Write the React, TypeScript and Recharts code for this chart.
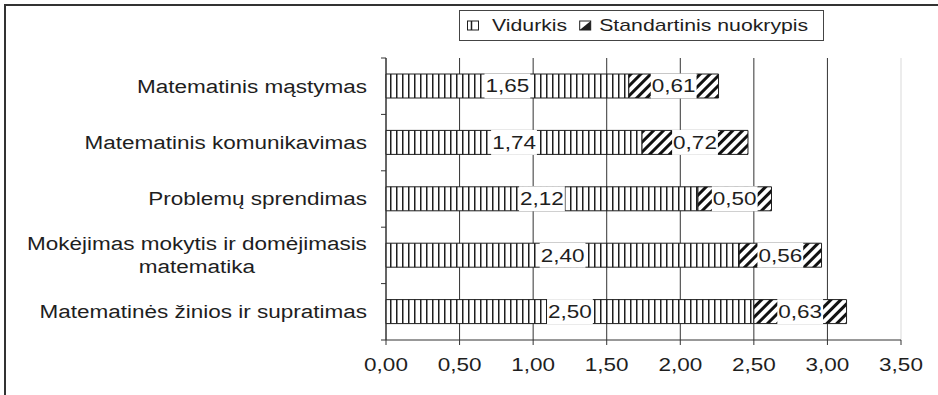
import {
  BarChart,
  Bar,
  XAxis,
  YAxis,
  CartesianGrid,
  Legend,
  LabelList,
} from "recharts";

const CATEGORIES = [
  "Matematinis mąstymas",
  "Matematinis komunikavimas",
  "Problemų sprendimas",
  "Mokėjimas mokytis ir domėjimasis matematika",
  "Matematinės žinios ir supratimas",
];
const MEAN = [1.65, 1.74, 2.12, 2.4, 2.5];
const SD = [0.61, 0.72, 0.5, 0.56, 0.63];
const SERIES_NAMES = ["Vidurkis", "Standartinis nuokrypis"];
const X_TICKS = [0, 0.5, 1, 1.5, 2, 2.5, 3, 3.5];

const data = CATEGORIES.map((name, i) => ({ name, mean: MEAN[i], sd: SD[i] }));

const WIDTH = 938;
const HEIGHT = 395;
const MARGIN = { top: 58, right: 37, bottom: 25, left: 0 };
const X_AXIS_HEIGHT = 30;
const Y_AXIS_WIDTH = 386;
const TICK_SIZE = 5;
const Y_TICK_MARGIN = 14;
const BAND =
  (HEIGHT - MARGIN.top - MARGIN.bottom - X_AXIS_HEIGHT) / CATEGORIES.length;

// the lettering in this chart is wide, so glyphs are stretched horizontally
const STRETCH = 1.25;
const FONT = '"Liberation Sans", Arial, sans-serif';
const INK = "#1e1e1e";

const fmt = (v: number) => v.toFixed(2).replace(".", ",");

let measureCtx: CanvasRenderingContext2D | null = null;
function textWidth(s: string, size: number) {
  if (!measureCtx) measureCtx = document.createElement("canvas").getContext("2d");
  if (!measureCtx) return s.length * size * 0.55 * STRETCH;
  measureCtx.font = `${size}px ${FONT}`;
  return measureCtx.measureText(s).width * STRETCH;
}

function wrapLabel(label: string, size: number, maxWidth: number) {
  const words = label.split(" ");
  const lines: string[] = [];
  let cur = "";
  for (const w of words) {
    const next = cur ? `${cur} ${w}` : w;
    if (cur && textWidth(next, size) > maxWidth) {
      lines.push(cur);
      cur = w;
    } else {
      cur = next;
    }
  }
  if (cur) lines.push(cur);
  return lines;
}

function WideText({ x, y, anchor = "middle", size = 18, dy, children }: any) {
  return (
    <text
      transform={`translate(${x},${y}) scale(${STRETCH},1)`}
      textAnchor={anchor}
      fontSize={size}
      fontFamily={FONT}
      fill={INK}
      dy={dy}
    >
      {children}
    </text>
  );
}

function ValueTick({ x, y, payload }: any) {
  return (
    <WideText x={x} y={y} dy="0.71em">
      {fmt(payload.value)}
    </WideText>
  );
}

function CategoryTick({ x, y, payload, index }: any) {
  const size = 18;
  const lines = wrapLabel(payload.value, size, 362);
  const maxW = Math.max(...lines.map((l) => textWidth(l, size)));
  const lineH = 23;
  const axisX = x + Y_TICK_MARGIN + TICK_SIZE;
  const half = BAND / 2;
  return (
    <g>
      <line x1={axisX - TICK_SIZE} x2={axisX} y1={y - half} y2={y - half} stroke="#333" />
      {index === CATEGORIES.length - 1 && (
        <line x1={axisX - TICK_SIZE} x2={axisX} y1={y + half} y2={y + half} stroke="#333" />
      )}
      {lines.map((l, i) => (
        <WideText
          key={i}
          x={x - maxW / 2}
          y={y + (i - (lines.length - 1) / 2) * lineH}
          size={size}
          dy="0.35em"
        >
          {l}
        </WideText>
      ))}
    </g>
  );
}

// vertical grid: the last line (right edge) is drawn pale
function GridLine(props: any) {
  const { x1, x2, y1, y2, index } = props;
  const last = index === X_TICKS.length - 1;
  return (
    <line x1={x1} x2={x2} y1={y1} y2={y2} stroke={last ? "#d9d9d9" : "#333"} strokeWidth={1} />
  );
}

// white tag with the value, centred on its bar segment
function ValueTag({ x, y, width, height, value }: any) {
  const text = fmt(Number(value));
  const w = textWidth(text, 18) + 2;
  const cx = Number(x) + Number(width) / 2;
  return (
    <g>
      <rect x={cx - w / 2} y={Number(y) - 0.5} width={w} height={Number(height) + 1} fill="#fff" />
      <WideText x={cx} y={Number(y) + Number(height) / 2} dy="0.36em">
        {text}
      </WideText>
    </g>
  );
}

function LegendIcon({ kind, x, cy }: any) {
  return (
    <g>
      <rect x={x + 0.5} y={cy - 4.5} width={11} height={9} fill="#fff" stroke={INK} />
      {kind === 0 ? (
        <line x1={x + 4.5} x2={x + 4.5} y1={cy - 4.5} y2={cy + 4.5} stroke={INK} strokeWidth={1.5} />
      ) : (
        <path d={`M${x + 0.5},${cy + 4.5} L${x + 0.5},${cy - 4.5} L${x + 11.5},${cy - 4.5} Z`} fill={INK} transform={`rotate(180 ${x + 6} ${cy})`} />
      )}
    </g>
  );
}

function LegendBox({ payload }: any) {
  const present = new Set((payload ?? []).map((p: any) => p.value));
  const names = SERIES_NAMES.filter((n) => present.has(n));
  const size = 17;
  const cy = 14.5;
  let cursor = 7;
  const parts: any[] = [];
  names.forEach((name) => {
    const kind = SERIES_NAMES.indexOf(name);
    const ix = cursor;
    const tx = ix + (kind === 0 ? 25 : 20);
    parts.push(
      <g key={name}>
        <LegendIcon kind={kind} x={ix} cy={cy} />
        <WideText x={tx} y={cy} anchor="start" size={size} dy="0.35em">
          {name}
        </WideText>
      </g>
    );
    cursor = tx + textWidth(name, size) + 12;
  });
  return (
    <div
      style={{
        border: "1px solid #444",
        background: "#fff",
        width: 365,
        height: 31,
        boxSizing: "border-box",
      }}
    >
      <svg width={363} height={29} style={{ display: "block" }}>
        {parts}
      </svg>
    </div>
  );
}

export default function App() {
  return (
    <div
      style={{
        position: "absolute",
        left: 0,
        top: 0,
        width: WIDTH,
        height: HEIGHT,
        overflow: "hidden",
        background: "#fff",
      }}
    >
      <div
        style={{
          position: "absolute",
          left: 4,
          top: 4,
          width: WIDTH + 20,
          height: HEIGHT + 20,
          border: "2px solid #333",
        }}
      />
      <div style={{ position: "absolute", left: 0, top: 0 }}>
        <BarChart
          width={WIDTH}
          height={HEIGHT}
          data={data}
          layout="vertical"
          margin={MARGIN}
        >
          <defs>
            <pattern id="vStripes" width="6" height="6" patternUnits="userSpaceOnUse">
              <rect width="6" height="6" fill="#fff" />
              <rect x="0" width="1.5" height="6" fill={INK} />
            </pattern>
            <pattern
              id="diagHatch"
              width="7"
              height="7"
              patternUnits="userSpaceOnUse"
              patternTransform="rotate(45)"
            >
              <rect width="7" height="7" fill="#fff" />
              <rect width="3" height="7" fill="#111" />
            </pattern>
          </defs>
          <CartesianGrid horizontal={false} vertical={(p: any) => <GridLine {...p} />} />
          <XAxis
            type="number"
            domain={[0, 3.5]}
            ticks={X_TICKS}
            interval={0}
            height={X_AXIS_HEIGHT}
            stroke="#333"
            tickSize={TICK_SIZE}
            tickMargin={13}
            tick={<ValueTick />}
          />
          <YAxis
            type="category"
            dataKey="name"
            width={Y_AXIS_WIDTH}
            interval={0}
            stroke="#333"
            tickLine={false}
            tickSize={TICK_SIZE}
            tickMargin={Y_TICK_MARGIN}
            tick={<CategoryTick />}
          />
          <Legend
            layout="horizontal"
            verticalAlign="middle"
            align="center"
            content={<LegendBox />}
            wrapperStyle={{ top: 10, left: 459, width: "auto", height: "auto" }}
          />
          <Bar
            dataKey="mean"
            name={SERIES_NAMES[0]}
            stackId="s"
            barSize={24}
            fill="url(#vStripes)"
            stroke={INK}
            strokeWidth={1}
            isAnimationActive={false}
          >
            <LabelList dataKey="mean" content={<ValueTag />} />
          </Bar>
          <Bar
            dataKey="sd"
            name={SERIES_NAMES[1]}
            stackId="s"
            barSize={24}
            fill="url(#diagHatch)"
            stroke={INK}
            strokeWidth={1}
            isAnimationActive={false}
          >
            <LabelList dataKey="sd" content={<ValueTag />} />
          </Bar>
        </BarChart>
      </div>
    </div>
  );
}
